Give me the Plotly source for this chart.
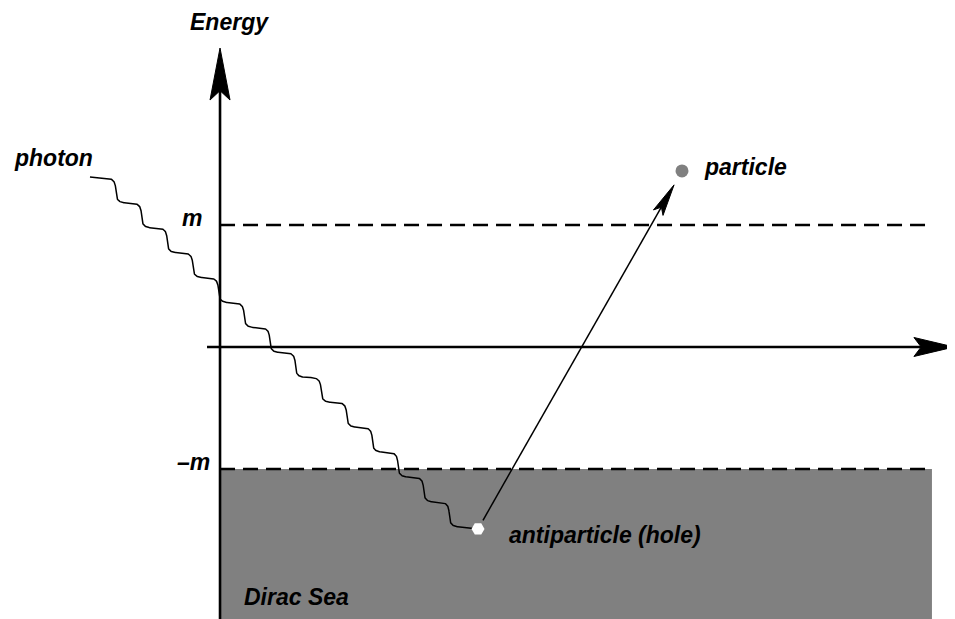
import numpy as np
import plotly.graph_objects as go

# ---- diagram values (energy in units of m) ----
levels = [1.0, -1.0]                 # +m and -m energy levels
level_labels = ["m", "–m"]
photon_start = [-1.066, 1.393]      # where the photon line begins
hole_pos = [2.115, -1.492]          # antiparticle (hole) in the Dirac sea
particle_pos = [3.787, 1.443]       # created particle
n_waves = 14                        # photon wiggles

# page body has an 8px margin, so the figure covers reference pixels 8..955 x 8..619
x_range = [-1.738, 6.025]
y_range = [-2.230, 2.779]
S = 122.0  # pixels per unit (equal aspect)
px = lambda p: p / S

sea_right = px(932 - 220)
energy_top = px(347 - 48)
axis_bottom = y_range[0]
xaxis_left = px(207 - 220)
xaxis_tip = px(954 - 220)

GRAY = "#808080"
FONT = dict(family="Liberation Sans, Arial, Helvetica, sans-serif", size=23,
            color="black", weight="bold", style="italic")

fig = go.Figure()

# Dirac sea
shapes = [dict(type="rect", xref="x", yref="y", x0=0, x1=sea_right,
               y0=y_range[0] - 0.2, y1=levels[1], fillcolor=GRAY,
               line=dict(width=0), layer="below")]
# dashed energy levels
for lv in levels:
    shapes.append(dict(type="line", xref="x", yref="y", x0=0, x1=sea_right,
                       y0=lv, y1=lv, line=dict(color="black", width=2.6, dash="15px,8px")))


def head(tip, d, length, hw, notch=0.82):
    d = np.array(d, float); d /= np.linalg.norm(d)
    n = np.array([-d[1], d[0]])
    t = np.array(tip, float)
    b = t - d * length
    nb = t - d * length * notch
    pts = [t, b + n * hw, nb, b - n * hw, t]
    return [p[0] for p in pts], [p[1] for p in pts]


# energy axis
shapes.append(dict(type="line", xref="x", yref="y", x0=0, x1=0, y0=axis_bottom - 0.1,
                   y1=energy_top - px(40), line=dict(color="black", width=2.6)))
# horizontal axis
shapes.append(dict(type="line", xref="x", yref="y", x0=xaxis_left, x1=xaxis_tip - px(30),
                   y0=0, y1=0, line=dict(color="black", width=2.6)))

for tip, d, L, hw in [((0, energy_top), (0, 1), px(52), px(10)),
                      ((xaxis_tip, 0), (1, 0), px(40), px(9.5))]:
    hx, hy = head(tip, d, L, hw)
    fig.add_trace(go.Scatter(x=hx, y=hy, fill="toself", fillcolor="black", mode="lines",
                             line=dict(color="black", width=1), hoverinfo="skip"))

# photon wavy line
p0 = np.array(photon_start)
w0 = p0 + np.array([px(13), -px(1)])
w1 = np.array(hole_pos) + np.array([-px(16), px(2)])
dv = w1 - w0
L = np.linalg.norm(dv)
du = dv / L
nv = np.array([-du[1], du[0]])
theta = np.arctan2(-du[1], du[0])
k = 2 * np.pi * n_waves / L
A = np.tan(theta) / k * 0.95
t = np.linspace(0, L, 1400)
wx = w0[0] + t * du[0] + A * np.sin(k * t) * nv[0]
wy = w0[1] + t * du[1] + A * np.sin(k * t) * nv[1]
wx = np.concatenate([[p0[0]], wx, [hole_pos[0]]])
wy = np.concatenate([[p0[1]], wy, [hole_pos[1]]])
fig.add_trace(go.Scatter(x=wx, y=wy, mode="lines", line=dict(color="black", width=1.5),
                         hoverinfo="skip"))

# pair creation arrow
hp = np.array(hole_pos); pp = np.array(particle_pos)
dd = pp - hp; dd /= np.linalg.norm(dd)
a_start = hp + dd * px(10)
a_tip = pp - dd * px(16)
fig.add_trace(go.Scatter(x=[a_start[0], a_tip[0] - dd[0] * px(20)],
                         y=[a_start[1], a_tip[1] - dd[1] * px(20)], mode="lines",
                         line=dict(color="black", width=1.5), hoverinfo="skip"))
hx, hy = head(a_tip, dd, px(32), px(5.5), notch=0.8)
fig.add_trace(go.Scatter(x=hx, y=hy, fill="toself", fillcolor="black", mode="lines",
                         line=dict(color="black", width=1), hoverinfo="skip"))

# hole and particle markers
fig.add_trace(go.Scatter(x=[hole_pos[0]], y=[hole_pos[1]], mode="markers",
                         marker=dict(symbol="hexagon2", size=13, color="white",
                                     line=dict(width=0)), hoverinfo="skip"))
fig.add_trace(go.Scatter(x=[particle_pos[0]], y=[particle_pos[1]], mode="markers",
                         marker=dict(symbol="circle", size=13, color=GRAY,
                                     line=dict(width=0)), hoverinfo="skip"))

ann = []
def label(text, x, y, xanchor="left", yanchor="middle", size=23):
    f = dict(FONT); f["size"] = size
    ann.append(dict(text=text, x=x, y=y, xref="x", yref="y", xanchor=xanchor,
                    yanchor=yanchor, showarrow=False, font=f, borderpad=0))

label("Energy", px(189 - 220), y_range[1], yanchor="top", size=23)
label("photon", px(13 - 220), px(347 - 158))
label(level_labels[0], px(203 - 220), levels[0] + px(7), xanchor="right")
label(level_labels[1], px(211 - 220), levels[1] + px(7), xanchor="right")
label("particle", particle_pos[0] + px(21), particle_pos[1] + px(4))
label("antiparticle (hole)", hole_pos[0] + px(30), hole_pos[1] - px(6))
label("Dirac Sea", px(243 - 220), px(347 - 597))

fig.update_layout(
    width=947, height=611, autosize=False,
    margin=dict(l=0, r=0, t=0, b=0),
    paper_bgcolor="white", plot_bgcolor="white",
    showlegend=False, shapes=shapes, annotations=ann,
    xaxis=dict(range=x_range, visible=False, fixedrange=True),
    yaxis=dict(range=y_range, visible=False, fixedrange=True),
)
fig.write_html("out.html", config={"displayModeBar": False})
